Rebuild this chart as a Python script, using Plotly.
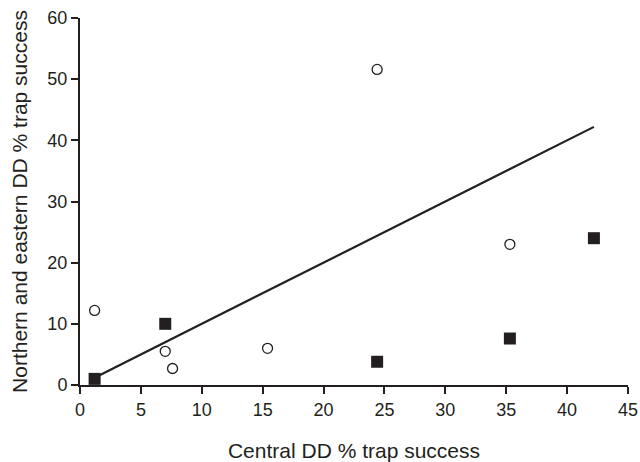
import plotly.graph_objects as go

# Open circles series
circle_x = [1.2, 7.0, 7.6, 15.4, 24.4, 35.3]
circle_y = [12.2, 5.5, 2.7, 6.0, 51.6, 23.0]

# Filled squares series
square_x = [1.2, 7.0, 24.4, 35.3, 42.2]
square_y = [1.0, 10.0, 3.8, 7.6, 24.0]

# 1:1 reference line
line_x = [1.2, 42.2]
line_y = [1.2, 42.2]

x_ticks = [0, 5, 10, 15, 20, 25, 30, 35, 40, 45]
y_ticks = [0, 10, 20, 30, 40, 50, 60]

ink = "#231f20"
font_family = "Liberation Sans, Arial, Helvetica"

fig = go.Figure()
fig.add_trace(go.Scatter(x=line_x, y=line_y, mode="lines",
                         line=dict(color=ink, width=2.2), showlegend=False,
                         cliponaxis=False))
fig.add_trace(go.Scatter(x=circle_x, y=circle_y, mode="markers",
                         marker=dict(symbol="circle", size=10, color="white",
                                     line=dict(color=ink, width=1.3)),
                         showlegend=False, cliponaxis=False))
fig.add_trace(go.Scatter(x=square_x, y=square_y, mode="markers",
                         marker=dict(symbol="square", size=12, color=ink,
                                     line=dict(width=0)),
                         showlegend=False, cliponaxis=False))

axis_common = dict(showgrid=False, zeroline=False, showline=True,
                   linecolor=ink, linewidth=2, ticks="outside", ticklen=7,
                   tickwidth=2, tickcolor=ink, ticklabeloverflow="allow",
                   tickfont=dict(family=font_family, size=18, color=ink),
                   title_font=dict(family=font_family, size=21, color=ink))

fig.update_xaxes(range=[0, 45], tickvals=x_ticks, title_text="Central DD % trap success",
                 title_standoff=25, **axis_common)
fig.update_yaxes(range=[0, 60], tickvals=y_ticks,
                 title_text="Northern and eastern DD % trap success",
                 title_standoff=14, **axis_common)

fig.update_layout(width=640, height=462, margin=dict(l=80, r=12, t=18, b=77, autoexpand=False),
                  plot_bgcolor="white", paper_bgcolor="white")

fig.write_html("out.html")
